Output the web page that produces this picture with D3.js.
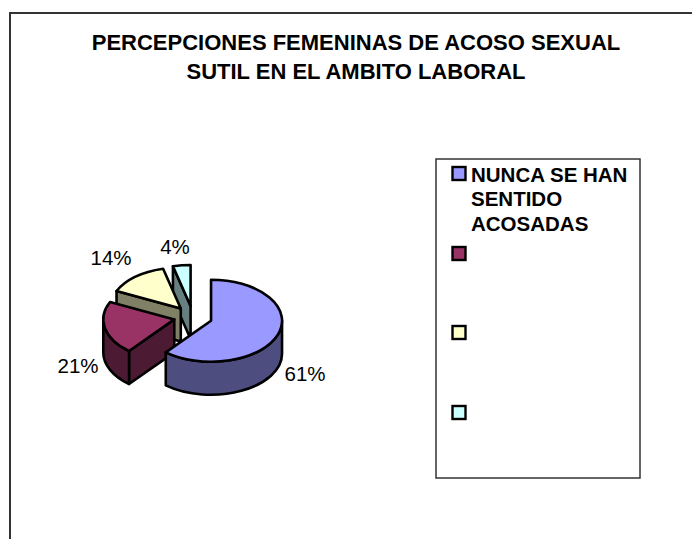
<!DOCTYPE html>
<html><head><meta charset="utf-8">
<script src="https://cdnjs.cloudflare.com/ajax/libs/d3/7.8.5/d3.min.js"></script>
<style>html,body{margin:0;padding:0;background:#fff}svg{display:block}text{font-family:"Liberation Sans",Arial,sans-serif;fill:#000}</style>
</head><body><svg id="c" width="692" height="539"></svg>
<script>
const titleLines = ["PERCEPCIONES FEMENINAS DE ACOSO SEXUAL", "SUTIL EN EL AMBITO LABORAL"];
const categories = ["NUNCA SE HAN SENTIDO ACOSADAS", "", "", ""];
const legendLines = ["NUNCA SE HAN", "SENTIDO", "ACOSADAS"];
const values = [61, 21, 14, 4];
const labels = ["61%", "21%", "14%", "4%"];
const topColors = ["#9999FF", "#993366", "#FFFFCC", "#CCFFFF"];
const sideColors = ["#4D4D80", "#4D1A33", "#808066", "#668080"];

const svg = d3.select("#c");
const W = 692, H = 539;
const stroke = "#000";

// chart frame: top and left edges only, running off the page
svg.append("line").attr("x1", 9).attr("x2", W).attr("y1", 13).attr("y2", 13)
  .attr("stroke", "#333").attr("stroke-width", 2);
svg.append("line").attr("x1", 10).attr("x2", 10).attr("y1", 12).attr("y2", H)
  .attr("stroke", "#333").attr("stroke-width", 2);

// title
svg.append("text").selectAll("tspan").data(titleLines).join("tspan")
  .attr("x", 356).attr("y", (d, i) => 50 + i * 29)
  .attr("text-anchor", "middle").attr("font-weight", "bold").attr("font-size", 22)
  .text(d => d);

// pie
const cx = 193, cy = 317, rx = 71, ry = 41, depth = 33, explode = 0.27;
const pie = d3.pie().sort(null).startAngle(0).endAngle(2 * Math.PI);
const arcs = pie(values);
const xS = d3.scaleLinear().domain([-1, 1]).range([-rx, rx]);
const yS = d3.scaleLinear().domain([-1, 1]).range([-ry, ry]);
const pt = a => [xS(Math.sin(a)), yS(-Math.cos(a))];
const fmt = p => p[0].toFixed(2) + " " + p[1].toFixed(2);
const ell = (a, b, dy = 0) => {
  const e = pt(b);
  return `A${rx} ${ry} 0 ${Math.abs(b - a) > Math.PI ? 1 : 0} ${b > a ? 1 : 0} ${e[0].toFixed(2)} ${(e[1] + dy).toFixed(2)}`;
};

const order = [3, 2, 1, 0];
const g = svg.append("g");
order.forEach(i => {
  const d = arcs[i];
  const mid = (d.startAngle + d.endAngle) / 2;
  const m = pt(mid);
  const sl = g.append("g").attr("transform", `translate(${cx + explode * m[0]},${cy + explode * m[1]})`);
  const s = pt(d.startAngle), e = pt(d.endAngle);
  const common = el => el.attr("stroke", stroke).attr("stroke-width", 2.6).attr("stroke-linejoin", "round");
  // start wall
  if (Math.sin(d.startAngle) < 0) {
    common(sl.append("path")).attr("fill", sideColors[i])
      .attr("d", `M0 0L${fmt(s)}V${s[1] + depth}L0 ${depth}Z`);
  }
  // outer rim: part of the arc facing the viewer
  const a0 = Math.max(d.startAngle, Math.PI / 2), a1 = Math.min(d.endAngle, 3 * Math.PI / 2);
  if (a1 > a0) {
    const p0 = pt(a0), p1 = pt(a1);
    common(sl.append("path")).attr("fill", sideColors[i])
      .attr("d", `M${fmt(p0)}${ell(a0, a1)}V${p1[1] + depth}${ell(a1, a0, depth)}Z`);
  }
  // top face
  common(sl.append("path")).attr("fill", topColors[i])
    .attr("d", `M0 0L${fmt(s)}${ell(d.startAngle, d.endAngle)}Z`);
});

// data labels
const labelX = [305, 78, 111, 175], labelY = [381, 373, 265, 254];
svg.append("g").selectAll("text").data(labels).join("text")
  .attr("x", (d, i) => labelX[i]).attr("y", (d, i) => labelY[i])
  .attr("text-anchor", "middle").attr("font-size", 20.5).text(d => d);

// legend
svg.append("rect").attr("x", 436).attr("y", 159).attr("width", 204).attr("height", 319)
  .attr("fill", "#fff").attr("stroke", "#333").attr("stroke-width", 1.5);
const swatchY = [167, 247, 326, 406];
svg.append("g").selectAll("rect").data(categories).join("rect")
  .attr("x", 452.5).attr("y", (d, i) => swatchY[i]).attr("width", 13).attr("height", 13)
  .attr("fill", (d, i) => topColors[i]).attr("stroke", "#000").attr("stroke-width", 2.4);
svg.append("text").selectAll("tspan").data(legendLines).join("tspan")
  .attr("x", 471).attr("y", (d, i) => 182 + i * 24.3)
  .attr("font-weight", "bold").attr("font-size", 20.5).text(d => d);
</script></body></html>
